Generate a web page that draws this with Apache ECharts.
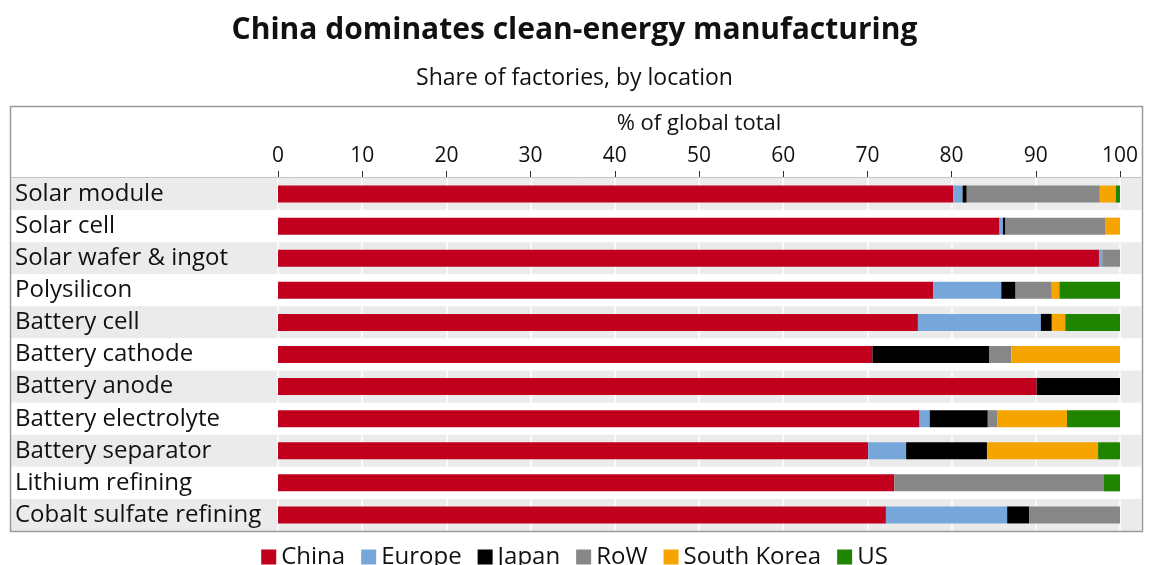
<!DOCTYPE html>
<html>
<head>
<meta charset="utf-8">
<script src="https://cdn.jsdelivr.net/npm/echarts@6/dist/echarts.min.js"></script>
<style>
  html, body { margin: 0; padding: 0; background: #fff; }
  #chart { width: 1149px; height: 565px; }
</style>
</head>
<body>
<div id="chart"></div>
<script>
// Manufacturing steps, top to bottom
const categories = [
  'Solar module', 'Solar cell', 'Solar wafer & ingot', 'Polysilicon',
  'Battery cell', 'Battery cathode', 'Battery anode', 'Battery electrolyte',
  'Battery separator', 'Lithium refining', 'Cobalt sulfate refining'
];

// Share of factories (% of global total) per location
const china      = [80.2, 85.7, 97.5, 77.8, 76.0, 70.6, 90.1, 76.2, 70.1, 73.2, 72.2];
const europe     = [1.1, 0.4, 0.4, 8.1, 14.6, 0, 0, 1.2, 4.5, 0, 14.4];
const japan      = [0.5, 0.3, 0, 1.7, 1.3, 13.9, 9.9, 6.9, 9.6, 0, 2.6];
const row        = [15.8, 11.9, 2.1, 4.3, 0, 2.6, 0, 1.1, 0, 24.9, 10.8];
const southKorea = [1.9, 1.7, 0, 0.9, 1.6, 12.9, 0, 8.3, 13.2, 0, 0];
const us         = [0.5, 0, 0, 7.2, 6.5, 0, 0, 6.3, 2.6, 1.9, 0];

const xTicks = { min: 0, max: 100, interval: 10 };

const seriesDefs = [
  { name: 'China', data: china, color: '#c0001c' },
  { name: 'Europe', data: europe, color: '#77a6da' },
  { name: 'Japan', data: japan, color: '#000000' },
  { name: 'RoW', data: row, color: '#878787' },
  { name: 'South Korea', data: southKorea, color: '#f6a500' },
  { name: 'US', data: us, color: '#1f8400' }
];

const FONT = '"Open Sans", "Noto Sans", sans-serif';
const TOP = 178, BOTTOM = 34;

const chart = echarts.init(document.getElementById('chart'), null, { renderer: 'canvas' });

chart.setOption({
  backgroundColor: '#ffffff',
  animation: false,
  title: [
    {
      text: 'China dominates clean-energy manufacturing',
      left: 'center', top: 10,
      textStyle: { fontFamily: FONT, fontSize: 30, fontWeight: 'bold', color: '#111' }
    },
    {
      text: 'Share of factories, by location',
      left: 'center', top: 62,
      textStyle: { fontFamily: FONT, fontSize: 23, fontWeight: 'normal', color: '#111' }
    }
  ],
  legend: {
    top: 540, left: 'center',
    icon: 'rect', itemWidth: 15, itemHeight: 15, itemGap: 16,
    textStyle: { fontFamily: FONT, fontSize: 24, color: '#111' },
    data: seriesDefs.map(s => s.name)
  },
  graphic: [
    {
      type: 'rect', z: 100, silent: true,
      shape: { x: 10.5, y: 106.5, width: 1132, height: 425 },
      style: { fill: 'none', stroke: '#9a9a9a', lineWidth: 1.5 }
    },
    {
      type: 'line', z: 100, silent: true,
      shape: { x1: 10.5, y1: 177.5, x2: 1142.5, y2: 177.5 },
      style: { stroke: '#c4c4c4', lineWidth: 1 }
    }
  ],
  grid: [
    // bar area
    { left: 278, right: 29, top: TOP, bottom: BOTTOM, containLabel: false },
    // full-width row bands with category labels
    { left: 11, right: 8, top: TOP, bottom: BOTTOM, containLabel: false }
  ],
  xAxis: [
    {
      gridIndex: 0, type: 'value', position: 'top', z: 2,
      min: xTicks.min, max: xTicks.max, interval: xTicks.interval,
      name: '% of global total', nameLocation: 'middle', nameGap: 43,
      nameTextStyle: { fontFamily: FONT, fontSize: 22, color: '#111' },
      axisLine: { show: false },
      axisTick: { show: true, length: 7, lineStyle: { color: '#333', width: 1 } },
      axisLabel: { fontFamily: FONT, fontSize: 21, color: '#111', margin: 11 },
      splitLine: { show: true, lineStyle: { color: '#ffffff', width: 1.5 } }
    },
    {
      gridIndex: 1, type: 'value', show: false, min: 0, max: 1
    }
  ],
  yAxis: [
    {
      gridIndex: 0, type: 'category', data: categories, inverse: true,
      axisLine: { show: false }, axisTick: { show: false }, axisLabel: { show: false }
    },
    {
      gridIndex: 1, type: 'category', data: categories, inverse: true, z: 0,
      axisLine: { show: false }, axisTick: { show: false },
      axisLabel: {
        inside: true, margin: 4, align: 'left',
        fontFamily: FONT, fontSize: 24, color: '#111'
      },
      splitLine: { show: false },
      splitArea: { show: true, areaStyle: { color: ['#ebebeb', '#ffffff'] } }
    }
  ],
  series: seriesDefs.map(s => ({
    name: s.name,
    type: 'bar',
    stack: 'share',
    xAxisIndex: 0, yAxisIndex: 0,
    barWidth: 17,
    z: 3,
    itemStyle: { color: s.color },
    emphasis: { disabled: true },
    data: s.data
  }))
});
</script>
</body>
</html>
